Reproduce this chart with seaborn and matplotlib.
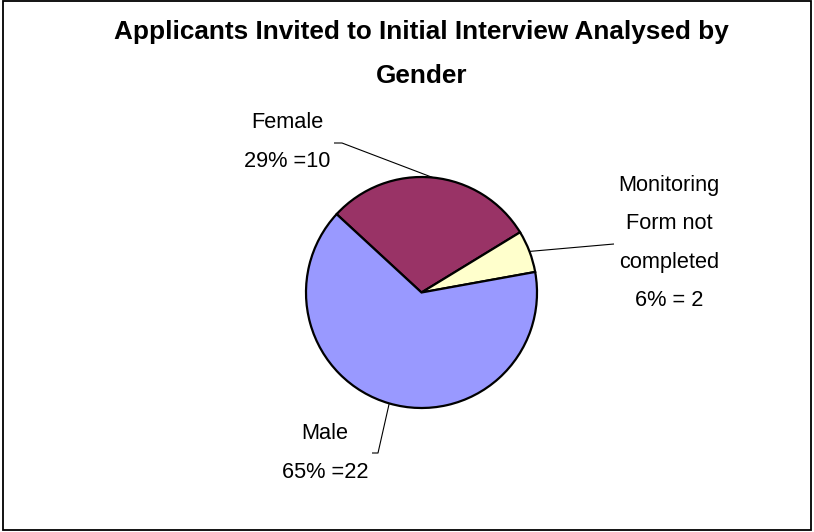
import numpy as np
import matplotlib
matplotlib.use("Agg")
import matplotlib.pyplot as plt
from matplotlib.patches import Rectangle
import seaborn as sns

# ---- data ----
categories = ["Female", "Monitoring Form not completed", "Male"]
counts = [10, 2, 22]
label_texts = ["Female\n29% =10", "Monitoring\nForm not\ncompleted\n6% = 2", "Male\n65% =22"]
slice_colors = ["#993366", "#FFFFCC", "#9999FF"]
title_text = "Applicants Invited to Initial Interview Analysed by\nGender"

sns.set_theme(style="white")
plt.rcParams["font.family"] = ["Liberation Sans", "DejaVu Sans"]

W, H = 814, 532
fig = plt.figure(figsize=(W / 100, H / 100), dpi=100)
fig.patch.set_facecolor("white")
ax = fig.add_axes([0, 0, 1, 1])

cx, cy, R = 421.5, H - 292.5, 115.5
wedges, _ = ax.pie(counts, colors=slice_colors, startangle=137.3,
                   counterclock=False, center=(cx, cy), radius=R,
                   wedgeprops=dict(edgecolor="black", linewidth=1.6))
ax.set_xlim(0, W)
ax.set_ylim(0, H)
ax.set_aspect("equal")
ax.axis("off")

# label placement (image pixel coords, y down) and leader paths
label_pos = [(287, 142), (669, 243), (325, 453)]
leader_tail = [[(342, 143), (334, 143)], [(614, 244)], [(378, 453), (372, 453)]]

for w, txt, (lx, ly), tail in zip(wedges, label_texts, label_pos, leader_tail):
    mid = np.deg2rad((w.theta1 + w.theta2) / 2)
    sx, sy = cx + R * np.cos(mid), cy + R * np.sin(mid)
    xs = [sx] + [p[0] for p in tail]
    ys = [sy] + [H - p[1] for p in tail]
    ax.plot(xs, ys, color="black", lw=0.8, solid_capstyle="butt")
    ax.text(lx, H - ly, txt, ha="center", va="center", fontsize=15.7,
            linespacing=2.1, color="black")

fig.text(421.5 / W, 1 - 20 / H, title_text, ha="center", va="top",
         fontsize=18.8, fontweight="bold", linespacing=2.05, color="black")

fig.patches.append(Rectangle((3 / W, 1 - 530 / H), 808 / W, 529 / H,
                             transform=fig.transFigure, fill=False,
                             edgecolor="black", linewidth=1.3))

fig.savefig("out.png", dpi=100, facecolor="white")
